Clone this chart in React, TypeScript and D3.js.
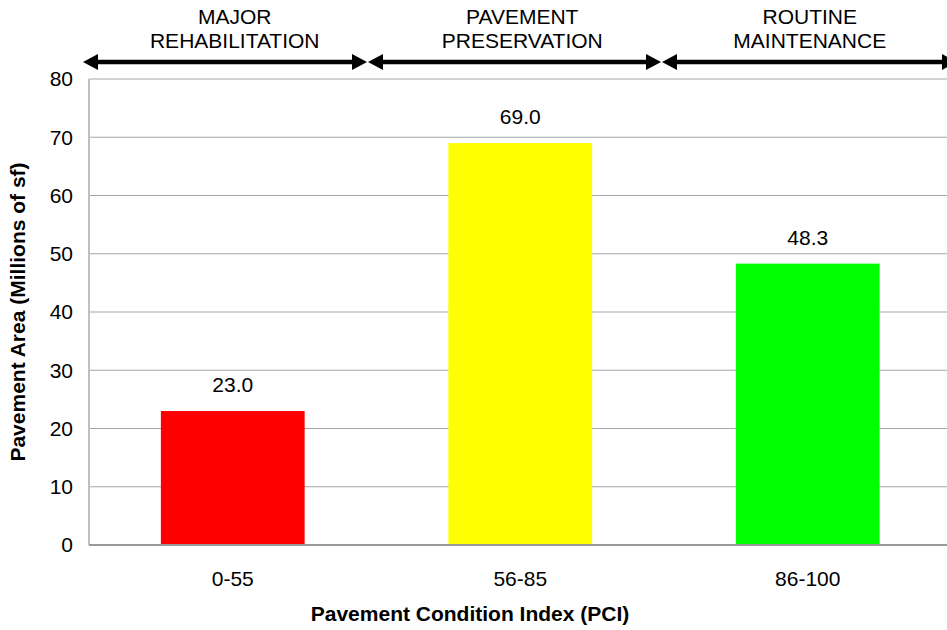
import React from "react";
import * as d3 from "d3";

const categories = ["0-55", "56-85", "86-100"];
const values = [23.0, 69.0, 48.3];
const barColors = ["#ff0000", "#ffff00", "#00ff00"];
const yTicks = [0, 10, 20, 30, 40, 50, 60, 70, 80];
const zoneLabels = [["MAJOR", "REHABILITATION"], ["PAVEMENT", "PRESERVATION"], ["ROUTINE", "MAINTENANCE"]];

export default function App() {
  const W = 947, H = 630;
  const left = 89, right = 951.5, top = 79, bottom = 545;
  const x = d3.scaleBand<string>().domain(categories).range([left, right]).paddingInner(0.5).paddingOuter(0.25);
  const band = d3.scaleBand<string>().domain(categories).range([left, right]);
  const y = d3.scaleLinear().domain([0, 80]).range([bottom, top]);
  const font = "Arial, 'Liberation Sans', sans-serif";
  const fs = 21;
  const arrowY = 62;
  const arrows = [[83, 367], [368, 661], [662, 957]];
  const head = 15, hh = 8;
  return (
    <svg width={W} height={H} style={{ position: "absolute", left: 0, top: 0 }} fontFamily={font}>
      <rect width={W} height={H} fill="#fff" />
      {yTicks.map((t) => (
        <g key={t}>
          {t > 0 && <line x1={left} x2={W} y1={y(t)} y2={y(t)} stroke="#a6a6a6" strokeWidth={1} />}
          <text x={73} y={y(t)} dy="0.35em" textAnchor="end" fontSize={fs}>{t}</text>
        </g>
      ))}
      <line x1={left} x2={left} y1={top} y2={bottom} stroke="#c0c0c0" strokeWidth={2} />
      {categories.map((c, i) => (
        <g key={c}>
          <rect x={x(c)} y={y(values[i])} width={x.bandwidth()} height={bottom - y(values[i])} fill={barColors[i]} />
          <text x={x(c)! + x.bandwidth() / 2} y={y(values[i]) - 19} textAnchor="middle" fontSize={fs}>{values[i].toFixed(1)}</text>
          <text x={band(c)! + band.bandwidth() / 2} y={586} textAnchor="middle" fontSize={fs}>{c}</text>
        </g>
      ))}
      <line x1={left} x2={W} y1={bottom} y2={bottom} stroke="#999" strokeWidth={2} />
      {arrows.map(([a, b], i) => {
        const cx = band(categories[i])! + band.bandwidth() / 2;
        return (
          <g key={i}>
            <line x1={a + head - 1} x2={b - head + 1} y1={arrowY} y2={arrowY} stroke="#000" strokeWidth={4.5} />
            <path d={`M${a},${arrowY} L${a + head},${arrowY - hh} L${a + head},${arrowY + hh} Z`} fill="#000" />
            <path d={`M${b},${arrowY} L${b - head},${arrowY - hh} L${b - head},${arrowY + hh} Z`} fill="#000" />
            <text x={cx + 2} y={24} textAnchor="middle" fontSize={fs}>{zoneLabels[i][0]}</text>
            <text x={cx + 2} y={48} textAnchor="middle" fontSize={fs}>{zoneLabels[i][1]}</text>
          </g>
        );
      })}
      <text x={470} y={621} textAnchor="middle" fontSize={fs} fontWeight="bold">Pavement Condition Index (PCI)</text>
      <text transform={`translate(25,${(top + bottom) / 2}) rotate(-90)`} textAnchor="middle" fontSize={fs} fontWeight="bold">Pavement Area (Millions of sf)</text>
    </svg>
  );
}
